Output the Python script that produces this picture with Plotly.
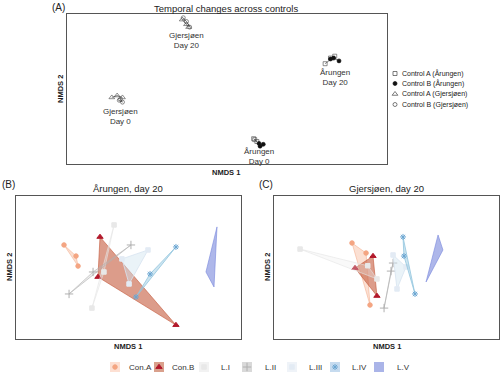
import plotly.graph_objects as go

FONT = "Liberation Sans, Arial, sans-serif"
W, H = 500, 373

# ---------------- Panel A data (NMDS units) ----------------
a_groups = ["Control A (Årungen)", "Control B (Årungen)", "Control A (Gjersjøen)", "Control B (Gjersjøen)"]
# each group: day 0 and day 20 replicates
ctrlA_aru_x = [0.25, 0.28, 0.26, 0.92, 1.01, 0.97]
ctrlA_aru_y = [-0.53, -0.56, -0.54, 0.27, 0.35, 0.33]
ctrlB_aru_x = [0.30, 0.31, 0.34, 0.97, 1.00, 1.05]
ctrlB_aru_y = [-0.58, -0.61, -0.59, 0.32, 0.33, 0.30]
ctrlA_gje_x = [-1.08, -1.03, -0.98, -0.42, -0.38, -0.36]
ctrlA_gje_y = [-0.09, -0.07, -0.09, 0.74, 0.69, 0.66]
ctrlB_gje_x = [-1.01, -0.98, -1.00, -0.41, -0.38, -0.35]
ctrlB_gje_y = [-0.12, -0.14, -0.11, 0.76, 0.72, 0.66]
a_label_text = ["Gjersjøen<br>Day 20", "Årungen<br>Day 20", "Gjersjøen<br>Day 0", "Årungen<br>Day 0"]
a_label_x = [-0.38, 1.01, -1.00, 0.30]
a_label_y = [0.52, 0.12, -0.29, -0.72]

# ---------------- Panels B/C data ----------------
treat = ["Con.A", "Con.B", "L.I", "L.II", "L.III", "L.IV", "L.V"]
# Årungen, day 20
aru_x = {
    "Con.A": [-0.344, -0.280, -0.269],
    "Con.B": [-0.152, -0.163, 0.253],
    "L.I": [-0.077, -0.131, -0.195],
    "L.II": [0.013, -0.189, -0.317],
    "L.III": [0.104, -0.035, 0.003],
    "L.IV": [0.253, 0.115, 0.040],
    "L.V": [0.472, 0.413, 0.456],
}
aru_y = {
    "Con.A": [0.126, 0.064, 0.008],
    "Con.B": [0.171, -0.053, -0.322],
    "L.I": [0.238, -0.025, -0.227],
    "L.II": [0.126, -0.025, -0.148],
    "L.III": [0.098, 0.048, -0.092],
    "L.IV": [0.115, -0.036, -0.165],
    "L.V": [0.227, -0.025, -0.109],
}
# Gjersjøen, day 20
gje_x = {
    "Con.A": [-0.184, -0.109, -0.088],
    "Con.B": [-0.072, -0.168, -0.051],
    "L.I": [-0.461, -0.051, -0.100],
    "L.II": [0.035, 0.024, -0.013],
    "L.III": [0.035, 0.056, 0.104],
    "L.IV": [0.088, 0.093, 0.152],
    "L.V": [0.275, 0.301, 0.211],
}
gje_y = {
    "Con.A": [0.137, 0.081, -0.210],
    "Con.B": [0.064, -0.003, -0.159],
    "L.I": [0.103, -0.064, 0.010],
    "L.II": [0.025, -0.020, -0.227],
    "L.III": [0.070, -0.120, 0.003],
    "L.IV": [0.171, 0.064, -0.148],
    "L.V": [0.182, 0.098, -0.081],
}

# styles
style = {
    "Con.A": dict(fill="rgba(244,165,130,0.35)", line="rgba(244,165,130,0.5)", mcol="#f4a582", sym="circle", size=4.5, key="#fde0d3"),
    "Con.B": dict(fill="rgba(196,90,60,0.6)", line="rgba(196,90,60,0.6)", mcol="#b2182b", sym="triangle-up", size=5.5, key="#d9a08c"),
    "L.I": dict(fill="rgba(235,235,235,0.3)", line="rgba(228,228,228,0.6)", mcol="#e8e8e8", sym="square", size=4.5, key="#f2f2f2"),
    "L.II": dict(fill="rgba(186,186,186,0.25)", line="rgba(175,175,175,0.6)", mcol="#b0b0b0", sym="cross-thin", size=6, key="#d9d9d9"),
    "L.III": dict(fill="rgba(209,229,240,0.45)", line="rgba(215,228,240,0.8)", mcol="#e3ebf4", sym="square", size=4.5, key="#eff3f8"),
    "L.IV": dict(fill="rgba(146,197,222,0.45)", line="rgba(146,197,222,0.8)", mcol="#6ba6d2", sym="asterisk-open", size=5, key="#c6dbef"),
    "L.V": dict(fill="rgba(120,135,220,0.6)", line="rgba(120,135,220,0.6)", mcol="rgba(0,0,0,0)", sym="circle", size=1, key="#aab4e8"),
}

def px(x):
    return x / W

def py(y):
    return 1 - y / H

fig = go.Figure()

# ---- Panel A traces ----
a_data = [
    (ctrlA_aru_x, ctrlA_aru_y, "square-open", "#444", 4),
    (ctrlB_aru_x, ctrlB_aru_y, "circle", "#111", 4),
    (ctrlA_gje_x, ctrlA_gje_y, "triangle-up-open", "#444", 5),
    (ctrlB_gje_x, ctrlB_gje_y, "circle-open", "#444", 4),
]
for (xs, ys, sym, col, sz) in a_data:
    for part in (slice(0, 3), slice(3, 6)):
        fig.add_trace(go.Scatter(
            x=xs[part], y=ys[part], mode="lines+markers", xaxis="x", yaxis="y",
            line=dict(color="#333", width=0.6),
            marker=dict(symbol=sym, color=col, size=sz, line=dict(color=col, width=0.6)),
            showlegend=False, hoverinfo="skip"))

# ---- Panels B and C ----
for (dx, dy, xa, ya) in [(aru_x, aru_y, "x2", "y2"), (gje_x, gje_y, "x3", "y3")]:
    for t in treat:
        s = style[t]
        xs = dx[t] + [dx[t][0]]
        ys = dy[t] + [dy[t][0]]
        fig.add_trace(go.Scatter(
            x=xs, y=ys, mode="lines", fill="toself", fillcolor=s["fill"],
            line=dict(color=s["line"], width=1), xaxis=xa, yaxis=ya,
            showlegend=False, hoverinfo="skip"))
        fig.add_trace(go.Scatter(
            x=dx[t], y=dy[t], mode="markers", xaxis=xa, yaxis=ya,
            marker=dict(symbol=s["sym"], color=s["mcol"], size=s["size"],
                        line=dict(color=s["mcol"], width=1)),
            showlegend=False, hoverinfo="skip"))

# ---- legend glyphs on overlay axis (pixel space) ----
legA_y = [73.5, 83.5, 94, 104.5]
legA_x = 395
for (xs, ys, sym, col, sz), gy in zip(a_data, legA_y):
    fig.add_trace(go.Scatter(x=[legA_x], y=[gy], mode="markers", xaxis="x4", yaxis="y4",
                             marker=dict(symbol=sym, color=col, size=sz, line=dict(color=col, width=0.7)),
                             showlegend=False, hoverinfo="skip"))

key_x = [110, 154, 199, 242, 287, 330, 374]
text_x = [127, 170, 219, 263, 307, 350, 395]
key_y0, key_y1 = 362, 372
shapes = []
annotations = []
for t, kx, tx in zip(treat, key_x, text_x):
    s = style[t]
    shapes.append(dict(type="rect", xref="x4", yref="y4", x0=kx, x1=kx + 10, y0=key_y0, y1=key_y1,
                       fillcolor=s["key"], line=dict(width=0), layer="below"))
    if t != "L.V":
        fig.add_trace(go.Scatter(x=[kx + 5], y=[(key_y0 + key_y1) / 2], mode="markers", xaxis="x4", yaxis="y4",
                                 marker=dict(symbol=s["sym"], color=s["mcol"], size=s["size"],
                                             line=dict(color=s["mcol"], width=1)),
                                 showlegend=False, hoverinfo="skip"))
    annotations.append(dict(text=t, x=px(tx), y=py(367), xref="paper", yref="paper",
                            xanchor="left", yanchor="middle", showarrow=False,
                            font=dict(size=8, color="#333", family=FONT)))

for name, gy in zip(a_groups, legA_y):
    annotations.append(dict(text=name, x=px(400), y=py(gy), xref="paper", yref="paper",
                            xanchor="left", yanchor="middle", showarrow=False,
                            font=dict(size=7, color="#222", family=FONT)))

# panel A labels (data coords)
for txt_, lx, ly in zip(a_label_text, a_label_x, a_label_y):
    annotations.append(dict(text=txt_, x=lx, y=ly, xref="x", yref="y", showarrow=False,
                            font=dict(size=8, color="#333", family=FONT), align="center"))

def txt(t, x, y, size=8, bold=False, angle=0, color="#222"):
    annotations.append(dict(text=("<b>%s</b>" % t) if bold else t, x=px(x), y=py(y),
                            xref="paper", yref="paper", showarrow=False, textangle=angle,
                            xanchor="center", yanchor="middle",
                            font=dict(size=size, color=color, family=FONT)))

txt("(A)", 58, 7, size=10)
txt("Temporal changes across controls", 226, 8, size=9.5)
txt("(B)", 8, 184, size=10)
txt("Årungen, day 20", 128, 188, size=9.5)
txt("(C)", 266, 184, size=10)
txt("Gjersjøen, day 20", 386, 188, size=9.5)
txt("NMDS 1", 226, 172, size=7.5, bold=True)
txt("NMDS 2", 61, 89, size=7.5, bold=True, angle=-90)
txt("NMDS 1", 128, 346, size=7.5, bold=True)
txt("NMDS 2", 9, 267, size=7.5, bold=True, angle=-90)
txt("NMDS 1", 387, 346, size=7.5, bold=True)
txt("NMDS 2", 267, 267, size=7.5, bold=True, angle=-90)

box = dict(showline=True, mirror=True, linecolor="#555", linewidth=1, showgrid=False,
           zeroline=False, showticklabels=False, ticks="", fixedrange=True)

fig.update_layout(
    width=W, height=H, margin=dict(l=0, r=0, t=0, b=0),
    paper_bgcolor="white", plot_bgcolor="rgba(0,0,0,0)",
    showlegend=False,
    xaxis=dict(domain=[px(67), px(387)], range=[-1.5, 1.5], anchor="y", **box),
    yaxis=dict(domain=[py(164), py(14)], range=[-0.8, 0.8], anchor="x", **box),
    xaxis2=dict(domain=[px(16), px(241)], range=[-0.6, 0.6], anchor="y2", **box),
    yaxis2=dict(domain=[py(339), py(196)], range=[-0.4, 0.4], anchor="x2", **box),
    xaxis3=dict(domain=[px(274), px(499)], range=[-0.6, 0.6], anchor="y3", **box),
    yaxis3=dict(domain=[py(339), py(196)], range=[-0.4, 0.4], anchor="x3", **box),
    xaxis4=dict(domain=[0, 1], range=[0, W], anchor="y4", visible=False, fixedrange=True),
    yaxis4=dict(domain=[0, 1], range=[H, 0], anchor="x4", visible=False, fixedrange=True),
    shapes=shapes, annotations=annotations,
    font=dict(family=FONT),
)

fig.write_html("out.html", config={"displayModeBar": False},
               post_script="document.body.style.margin='0';document.body.style.overflow='hidden';")
